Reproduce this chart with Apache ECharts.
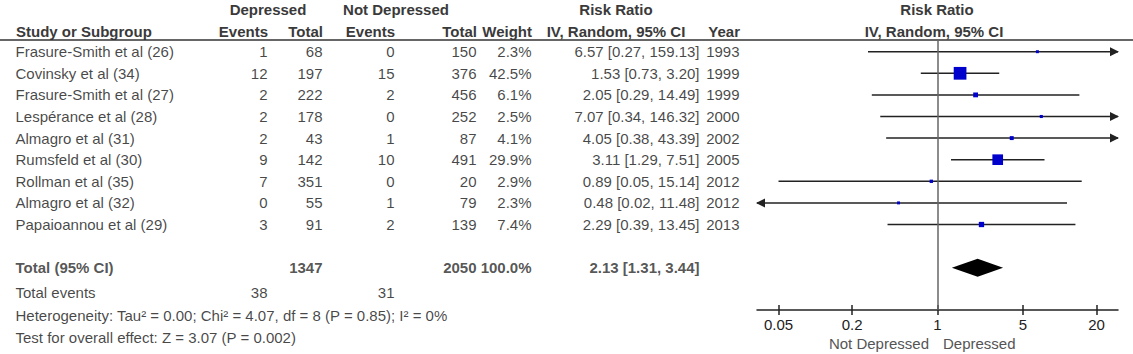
<!DOCTYPE html>
<html>
<head>
<meta charset="utf-8">
<title>Forest plot</title>
<script src="https://cdn.jsdelivr.net/npm/echarts@6/dist/echarts.min.js"></script>
<style>
html, body { margin: 0; padding: 0; background: #fff; }
#chart { width: 1133px; height: 354px; }
</style>
</head>
<body>
<div id="chart"></div>
<script>
// study data
const studies = [
  'Frasure-Smith et al (26)', 'Covinsky et al (34)', 'Frasure-Smith et al (27)',
  'Lespérance et al (28)', 'Almagro et al (31)', 'Rumsfeld et al (30)',
  'Rollman et al (35)', 'Almagro et al (32)', 'Papaioannou et al (29)'
]
const depEvents = [1, 12, 2, 2, 2, 9, 7, 0, 3]
const depTotal = [68, 197, 222, 178, 43, 142, 351, 55, 91]
const ndEvents = [0, 15, 2, 0, 1, 10, 0, 1, 2]
const ndTotal = [150, 376, 456, 252, 87, 491, 20, 79, 139]
const weights = [2.3, 42.5, 6.1, 2.5, 4.1, 29.9, 2.9, 2.3, 7.4]
const rr = [6.57, 1.53, 2.05, 7.07, 4.05, 3.11, 0.89, 0.48, 2.29]
const ciLow = [0.27, 0.73, 0.29, 0.34, 0.38, 1.29, 0.05, 0.02, 0.39]
const ciHigh = [159.13, 3.2, 14.49, 146.32, 43.39, 7.51, 15.14, 11.48, 13.45]
const years = [1993, 1999, 1999, 2000, 2002, 2005, 2012, 2012, 2013]

// pooled result
const totalRR = [2.13, 1.31, 3.44]
const totalN = [1347, 2050]
const totalEvents = [38, 31]
const totalWeight = 100
const heterogeneity = 'Heterogeneity: Tau² = 0.00; Chi² = 4.07, df = 8 (P = 0.85); I² = 0%'
const overallTest = 'Test for overall effect: Z = 3.07 (P = 0.002)'

const tickValues = [0.05, 0.2, 1, 5, 20]

// layout
const W = 1133
const H = 354
const ROW0 = 51.7
const ROW_H = 21.6
const rowAt = (px) => (px - ROW0) / ROW_H
const TOTAL_ROW = 10
const FOOT_ROWS = [rowAt(292), rowAt(315), rowAt(337)]
const X_LIM = Math.log10(30)
const cols = { study: 15, depEv: 268, depTot: 323, ndEv: 395, ndTot: 477, weight: 532, ci: 700, year: 740 }
const FONT = '"Liberation Sans", Arial, sans-serif'
const FS = 15

const fmtCI = (e, l, h) => `${e.toFixed(2)} [${l.toFixed(2)}, ${h.toFixed(2)}]`

function textCol(x, align, items) {
  return {
    type: 'scatter',
    xAxisIndex: 0,
    yAxisIndex: 0,
    silent: true,
    symbolSize: 1,
    itemStyle: { color: 'rgba(0,0,0,0)' },
    label: {
      show: true,
      position: align === 'left' ? 'right' : 'left',
      distance: 0,
      formatter: '{b}',
      color: '#161616',
      fontSize: FS,
      fontFamily: FONT
    },
    data: items.map((it) => ({
      name: String(it[1]),
      value: [x, it[0]],
      label: it[2] ? { fontWeight: 'bold', color: '#2a2a2a' } : undefined
    }))
  }
}

const rows = studies.map((s, i) => i)
const tableSeries = [
  textCol(cols.study, 'left', rows.map((i) => [i, studies[i]]).concat([
    [TOTAL_ROW, 'Total (95% CI)', true],
    [FOOT_ROWS[0], 'Total events'],
    [FOOT_ROWS[1], heterogeneity],
    [FOOT_ROWS[2], overallTest]
  ])),
  textCol(cols.depEv, 'right', rows.map((i) => [i, depEvents[i]]).concat([[FOOT_ROWS[0], totalEvents[0]]])),
  textCol(cols.depTot, 'right', rows.map((i) => [i, depTotal[i]]).concat([[TOTAL_ROW, totalN[0], true]])),
  textCol(cols.ndEv, 'right', rows.map((i) => [i, ndEvents[i]]).concat([[FOOT_ROWS[0], totalEvents[1]]])),
  textCol(cols.ndTot, 'right', rows.map((i) => [i, ndTotal[i]]).concat([[TOTAL_ROW, totalN[1], true]])),
  textCol(cols.weight, 'right', rows.map((i) => [i, weights[i].toFixed(1) + '%']).concat([[TOTAL_ROW, totalWeight.toFixed(1) + '%', true]])),
  textCol(cols.ci, 'right', rows.map((i) => [i, fmtCI(rr[i], ciLow[i], ciHigh[i])]).concat([[TOTAL_ROW, fmtCI(totalRR[0], totalRR[1], totalRR[2]), true]])),
  textCol(cols.year, 'right', rows.map((i) => [i, years[i]]))
]

const headers = [
  ['Depressed', 268, 9, 'center'],
  ['Not Depressed', 396, 9, 'center'],
  ['Risk Ratio', 616, 9, 'center'],
  ['Risk Ratio', 937, 9, 'center'],
  ['Study or Subgroup', 16, 31, 'left'],
  ['Events', 268, 31, 'right'],
  ['Total', 323, 31, 'right'],
  ['Events', 395, 31, 'right'],
  ['Total', 477, 31, 'right'],
  ['Weight', 532, 31, 'right'],
  ['IV, Random, 95% CI', 616, 31, 'center'],
  ['Year', 740, 31, 'right'],
  ['IV, Random, 95% CI', 934, 31, 'center']
]

const graphic = headers.map((h) => ({
  type: 'text',
  silent: true,
  style: {
    text: h[0], x: h[1], y: h[2], textAlign: h[3], textVerticalAlign: 'middle',
    fill: '#3a3a3a', font: `bold ${FS}px ${FONT}`
  }
}))
graphic.push({
  type: 'line', silent: true,
  shape: { x1: 0, y1: 40, x2: W, y2: 40 },
  style: { stroke: '#333', lineWidth: 1.5 }
})
graphic.push({
  type: 'text', silent: true,
  style: { text: 'Not Depressed', x: 929, y: 343, textAlign: 'right', textVerticalAlign: 'middle', fill: '#555', font: `${FS}px ${FONT}` }
})
graphic.push({
  type: 'text', silent: true,
  style: { text: 'Depressed', x: 943, y: 343, textAlign: 'left', textVerticalAlign: 'middle', fill: '#555', font: `${FS}px ${FONT}` }
})

const logTicks = tickValues.map((v) => Math.log10(v))
const ciData = rows.map((i) => [Math.log10(ciLow[i]), Math.log10(ciHigh[i]), i])
const pointData = rows.map((i) => [Math.log10(rr[i]), i, weights[i]])
const diamondData = [[Math.log10(totalRR[1]), Math.log10(totalRR[0]), Math.log10(totalRR[2]), TOTAL_ROW]]

const chart = echarts.init(document.getElementById('chart'), null, { renderer: 'svg' })

const option = {
  animation: false,
  graphic,
  grid: [
    { left: 0, top: 0, width: W, height: H },
    { left: 757, top: 40, width: 361, height: 270 }
  ],
  xAxis: [
    { gridIndex: 0, type: 'value', min: 0, max: W, show: false },
    {
      gridIndex: 1, type: 'value', min: -X_LIM, max: X_LIM, position: 'bottom',
      axisLine: { onZero: false, lineStyle: { color: '#222', width: 1.5 } },
      axisTick: { customValues: logTicks, length: 5, lineStyle: { color: '#222', width: 1.5 } },
      axisLabel: {
        customValues: logTicks,
        margin: 7,
        color: '#222',
        fontSize: FS,
        fontFamily: FONT,
        formatter: (v) => String(parseFloat(Math.pow(10, v).toPrecision(2)))
      },
      splitLine: { show: false }
    },
    {
      gridIndex: 1, type: 'value', min: -X_LIM, max: X_LIM, position: 'bottom',
      axisLine: { show: false, onZero: false },
      axisTick: { customValues: logTicks, inside: true, length: 5, lineStyle: { color: '#222', width: 1.5 } },
      axisLabel: { show: false },
      splitLine: { show: false }
    }
  ],
  yAxis: [
    { gridIndex: 0, type: 'value', inverse: true, min: rowAt(0), max: rowAt(H), show: false },
    { gridIndex: 1, type: 'value', inverse: true, min: rowAt(40), max: rowAt(310), show: false }
  ],
  series: tableSeries.concat([
    {
      type: 'custom',
      xAxisIndex: 1,
      yAxisIndex: 1,
      silent: true,
      z: 3,
      data: ciData,
      encode: { x: [0, 1], y: 2 },
      renderItem(params, api) {
        const lo = api.value(0)
        const hi = api.value(1)
        const r = api.value(2)
        const a = api.coord([Math.max(lo, -X_LIM), r])
        const b = api.coord([Math.min(hi, X_LIM), r])
        const style = { stroke: '#222', lineWidth: 1.5 }
        const children = [{ type: 'line', shape: { x1: a[0], y1: a[1], x2: b[0], y2: b[1] }, style }]
        if (hi > X_LIM) {
          children.push({ type: 'polygon', shape: { points: [[b[0] + 1, b[1]], [b[0] - 8, b[1] - 4.5], [b[0] - 8, b[1] + 4.5]] }, style: { fill: '#222' } })
        }
        if (lo < -X_LIM) {
          children.push({ type: 'polygon', shape: { points: [[a[0] - 1, a[1]], [a[0] + 8, a[1] - 4.5], [a[0] + 8, a[1] + 4.5]] }, style: { fill: '#222' } })
        }
        return { type: 'group', children }
      }
    },
    {
      type: 'scatter',
      xAxisIndex: 1,
      yAxisIndex: 1,
      silent: true,
      z: 4,
      symbol: 'rect',
      symbolSize: (val) => 1.95 * Math.sqrt(val[2]),
      itemStyle: { color: '#0000CC', opacity: 1 },
      data: pointData,
      markLine: {
        silent: true,
        symbol: 'none',
        label: { show: false },
        lineStyle: { color: '#666', width: 1.5, type: 'solid' },
        data: [{ xAxis: 0 }]
      }
    },
    {
      type: 'custom',
      xAxisIndex: 1,
      yAxisIndex: 1,
      silent: true,
      z: 4,
      data: diamondData,
      encode: { x: [0, 1, 2], y: 3 },
      renderItem(params, api) {
        const r = api.value(3)
        const l = api.coord([api.value(0), r])
        const m = api.coord([api.value(1), r])
        const h = api.coord([api.value(2), r])
        return {
          type: 'polygon',
          shape: { points: [[l[0], l[1]], [m[0], m[1] - 9], [h[0], h[1]], [m[0], m[1] + 9]] },
          style: { fill: '#000' }
        }
      }
    }
  ])
}

chart.setOption(option)

window.addEventListener('resize', () => {
  chart.resize()
})
</script>
</body>
</html>
